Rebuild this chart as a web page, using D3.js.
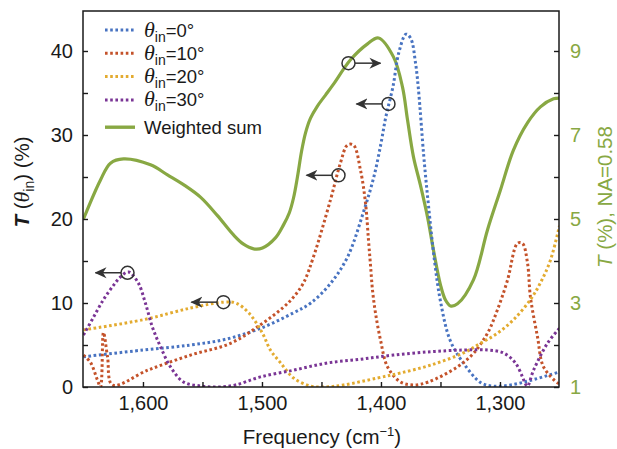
<!DOCTYPE html>
<html>
<head>
<meta charset="utf-8">
<script src="https://cdn.jsdelivr.net/npm/d3@7"></script>
<style>
  body { margin: 0; background: #fff; }
  svg { font-family: "Liberation Sans", Arial, sans-serif; }
</style>
</head>
<body>
<div id="chart"></div>
<script>
// values: [frequency (cm-1), transmission (%)]
const angles = ["0°", "10°", "20°", "30°"];

const t0 = [[1650,3.6],[1600,4.4],[1560,5.0],[1530,5.7],[1501,7.0],[1474,8.8],[1459,10.0],[1442,12.4],[1428,15.5],
  [1415,20.7],[1406,25.0],[1400,29.0],[1396,32.1],[1390,35.7],[1385,39.8],[1379,42.0],[1375,41.5],[1371,38.6],
  [1368.5,35.4],[1364,27.4],[1360,21.5],[1355,15.0],[1350,10.2],[1342,5.6],[1331,2.9],[1316,0.5],[1305,0.1],
  [1291,0.24],[1274,0.8],[1250,1.8]];

const t10 = [[1650,3.8],[1644,2.9],[1638.2,0.8],[1635.7,0],[1633.2,6.5],[1629.8,3.6],[1625.6,0.24],[1596,2.0],
  [1560,3.8],[1526.5,5.2],[1501.3,7.4],[1481.9,9.5],[1473.5,10.7],[1465.1,12.4],[1456.7,15.5],[1442.4,22.3],
  [1434,26.7],[1428.2,28.8],[1423.1,28.8],[1417.2,25.8],[1413,21.9],[1410.5,17.5],[1408.8,14.5],[1407.1,11.5],
  [1404.6,8.8],[1400.4,5.6],[1394.5,2.4],[1383.6,0.6],[1372.7,0.24],[1360.1,0.6],[1335.7,2.4],[1322.3,4.0],
  [1310.5,6.4],[1302.1,9.2],[1293.7,12.7],[1285.3,17.1],[1281.1,17.1],[1276.9,14.8],[1274.4,10.7],[1268.5,6.0],
  [1263.4,2.4],[1251.7,0.5],[1250,0.4]];

const t20 = [[1650,6.8],[1600,8.0],[1560,9.4],[1532,10.1],[1522,10.0],[1511,8.8],[1499.6,6.4],[1492.9,4.4],
  [1484.5,2.9],[1473.5,1.07],[1459.2,0.12],[1446.6,0.0],[1431.5,0.24],[1403,1.07],[1383.6,1.67],[1358.4,2.6],
  [1330.7,4.05],[1316.4,5.2],[1302.1,6.4],[1288.7,8.0],[1274.4,10.4],[1266,12.4],[1257.6,15.1],[1250,19.2]];

const t30 = [[1650,6.2],[1641.6,8.3],[1633.2,10.4],[1624.8,12.1],[1618.9,13.1],[1612.2,13.7],[1604,12.4],
  [1598,10.0],[1592,7.1],[1585.3,4.8],[1576.9,2.4],[1566,0.6],[1551.7,0.12],[1537.4,0],[1522.3,0.24],
  [1501.3,1.2],[1473.5,2.0],[1445,2.86],[1417.2,3.3],[1389.5,3.8],[1358.4,4.2],[1330.7,4.4],[1310.5,4.4],
  [1297,4.05],[1287,2.86],[1281.1,1.2],[1278.6,0.36],[1276.9,0.1],[1271.8,2.0],[1260.1,5.2],[1250,7.0]];

// weighted sum, right axis (T %, NA=0.58)
const weighted = [[1650,5.0],[1635.7,5.93],[1627.3,6.33],[1616.4,6.43],[1593.7,6.29],[1579.4,6.05],[1565,5.8],
  [1551.7,5.52],[1537.4,5.08],[1523.9,4.62],[1515.5,4.4],[1507,4.29],[1499.6,4.31],[1488.7,4.55],[1481.9,4.86],
  [1477,5.15],[1473.5,5.5],[1470.2,6.0],[1466.8,6.6],[1463.4,7.05],[1459.2,7.4],[1453.4,7.69],[1446.6,7.95],
  [1439.9,8.21],[1425.6,8.79],[1411.3,9.17],[1402.1,9.31],[1389.5,8.86],[1381.9,8.14],[1377.7,7.36],[1372.7,6.48],
  [1366.8,5.8],[1360.9,5.05],[1355.9,4.26],[1350,3.43],[1345.8,3.07],[1341.6,2.93],[1335.7,2.98],[1322.3,3.55],
  [1310.5,4.74],[1299.6,5.69],[1288.7,6.64],[1276.9,7.29],[1266,7.67],[1255,7.86],[1250,7.88]];

// circled points with arrows (which axis they belong to)
const markFreq = [1613, 1532.4, 1435.7, 1427.3, 1393.7];
const markValue = [13.6, 10.1, 25.2, 8.71, 33.7];
const markAxis = ["left", "left", "left", "right", "left"];
const markDir = [-1, -1, -1, 1, -1];

const xTicks = [1600, 1550, 1500, 1450, 1400, 1350, 1300];
const xLabels = [1600, 1500, 1400, 1300];
const leftTicks = [0, 5, 10, 15, 20, 25, 30, 35, 40];
const leftLabels = [0, 10, 20, 30, 40];
const rightTicks = [1, 2, 3, 4, 5, 6, 7, 8, 9];
const rightLabels = [1, 3, 5, 7, 9];

const colors = ["#4873c1", "#c4522a", "#e3ab30", "#7a3595"];
const sumColor = "#88a843";

const width = 617, height = 449;
const marginTop = 11, marginRight = 58, marginBottom = 62, marginLeft = 83;

const x = d3.scaleLinear([1650.4, 1250.4], [marginLeft, width - marginRight]);
const y = d3.scaleLinear([0, 44.76], [height - marginBottom, marginTop]);
const y2 = d3.scaleLinear([1, 9.952], [height - marginBottom, marginTop]);

const svg = d3.create("svg")
    .attr("width", width)
    .attr("height", height)
    .attr("viewBox", [0, 0, width, height]);

const defs = svg.append("defs");
defs.append("clipPath").attr("id", "plot")
  .append("rect")
    .attr("x", marginLeft).attr("y", marginTop)
    .attr("width", width - marginLeft - marginRight)
    .attr("height", height - marginTop - marginBottom);

defs.append("marker")
    .attr("id", "arrow")
    .attr("viewBox", "0 0 12 12")
    .attr("refX", 11).attr("refY", 6)
    .attr("markerWidth", 12).attr("markerHeight", 12)
    .attr("markerUnits", "userSpaceOnUse")
    .attr("orient", "auto")
  .append("path")
    .attr("d", "M0,0.5 L12,6 L0,11.5 L3.5,6 Z")
    .attr("fill", "#333");

const line = d3.line()
    .x(d => x(d[0]))
    .y(d => y(d[1]))
    .curve(d3.curveCatmullRom.alpha(0.5));

const line2 = d3.line()
    .x(d => x(d[0]))
    .y(d => y2(d[1]))
    .curve(d3.curveCatmullRom.alpha(0.5));

const plot = svg.append("g").attr("clip-path", "url(#plot)");

// weighted sum
plot.append("path")
    .attr("d", line2(weighted))
    .attr("fill", "none")
    .attr("stroke", sumColor)
    .attr("stroke-width", 3.2);

// angle curves
plot.append("g")
    .attr("fill", "none")
    .attr("stroke-width", 3)
    .attr("stroke-dasharray", "2.6,2.6")
  .selectAll("path")
  .data([t0, t10, t20, t30])
  .join("path")
    .attr("stroke", (d, i) => colors[i])
    .attr("d", d => line(d));

// frame
svg.append("rect")
    .attr("x", marginLeft).attr("y", marginTop)
    .attr("width", width - marginLeft - marginRight)
    .attr("height", height - marginTop - marginBottom)
    .attr("fill", "none")
    .attr("stroke", "#1a1a1a")
    .attr("stroke-width", 1.5);

// axes
const tickFont = g => g.selectAll(".tick text").style("font-size", "20px").style("font-family", "Liberation Sans, Arial, sans-serif");

svg.append("g")
    .attr("transform", `translate(0,${height - marginBottom})`)
    .call(d3.axisBottom(x).tickValues(xTicks).tickSize(-5).tickSizeOuter(0).tickPadding(9)
      .tickFormat(d => xLabels.includes(d) ? d3.format(",")(d) : ""))
    .call(g => g.select(".domain").remove())
    .call(g => g.selectAll(".tick line").attr("stroke", "#1a1a1a").attr("stroke-width", 1.4))
    .call(g => g.selectAll(".tick text").attr("fill", "#1a1a1a"))
    .call(tickFont);

svg.append("g")
    .attr("transform", `translate(${marginLeft},0)`)
    .call(d3.axisLeft(y).tickValues(leftTicks).tickSize(-5).tickSizeOuter(0).tickPadding(10)
      .tickFormat(d => leftLabels.includes(d) ? d : ""))
    .call(g => g.select(".domain").remove())
    .call(g => g.selectAll(".tick line").attr("stroke", "#1a1a1a").attr("stroke-width", 1.4))
    .call(g => g.selectAll(".tick text").attr("fill", "#1a1a1a"))
    .call(tickFont);

svg.append("g")
    .attr("transform", `translate(${width - marginRight},0)`)
    .call(d3.axisRight(y2).tickValues(rightTicks).tickSize(-5).tickSizeOuter(0).tickPadding(11)
      .tickFormat(d => rightLabels.includes(d) ? d : ""))
    .call(g => g.select(".domain").remove())
    .call(g => g.selectAll(".tick line").attr("stroke", "#1a1a1a").attr("stroke-width", 1.4))
    .call(g => g.selectAll(".tick text").attr("fill", sumColor))
    .call(tickFont);

// axis titles
const xt = svg.append("text")
    .attr("x", 322).attr("y", 444)
    .attr("text-anchor", "middle")
    .attr("fill", "#1a1a1a")
    .style("font-size", "20.5px");
xt.append("tspan").text("Frequency (cm");
xt.append("tspan").attr("dy", -8).style("font-size", "13px").text("−1");
xt.append("tspan").attr("dy", 8).text(")");

const yt = svg.append("text")
    .attr("transform", "translate(29,182) rotate(-90)")
    .attr("text-anchor", "middle")
    .attr("fill", "#1a1a1a")
    .style("font-size", "20.5px");
yt.append("tspan").style("font-style", "italic").style("font-weight", "bold").text("T ");
yt.append("tspan").text("(");
yt.append("tspan").style("font-family", "Liberation Serif, serif").style("font-style", "italic").style("font-size", "22px").text("θ");
yt.append("tspan").attr("dy", 5).style("font-size", "14px").text("in");
yt.append("tspan").attr("dy", -5).text(") (%)");

const rt = svg.append("text")
    .attr("transform", "translate(612,197) rotate(-90)")
    .attr("text-anchor", "middle")
    .attr("fill", sumColor)
    .style("font-size", "20.5px");
rt.append("tspan").style("font-style", "italic").text("T");
rt.append("tspan").text(" (%), NA=0.58");

// circled markers with arrows
const marks = markFreq.map((f, i) => ({
  cx: x(f),
  cy: markAxis[i] === "left" ? y(markValue[i]) : y2(markValue[i]),
  dir: markDir[i]
}));

const mg = svg.append("g").attr("stroke", "#333").attr("fill", "none").attr("stroke-width", 1.5);
mg.selectAll("circle")
  .data(marks)
  .join("circle")
    .attr("cx", d => d.cx).attr("cy", d => d.cy).attr("r", 6.5);
mg.selectAll("line")
  .data(marks)
  .join("line")
    .attr("x1", d => d.cx + d.dir * 6.5).attr("y1", d => d.cy)
    .attr("x2", d => d.cx + d.dir * 32).attr("y2", d => d.cy)
    .attr("marker-end", "url(#arrow)");

// legend
const legendItems = angles.map((a, i) => ({ label: a, color: colors[i], dotted: true }))
  .concat([{ label: "Weighted sum", color: sumColor, dotted: false }]);

const legend = svg.append("g")
  .selectAll("g")
  .data(legendItems)
  .join("g")
    .attr("transform", (d, i) => `translate(105,${30 + i * 23.3 + (i === 4 ? 4 : 0)})`);

legend.append("line")
    .attr("x1", 0).attr("x2", 30)
    .attr("stroke", d => d.color)
    .attr("stroke-width", d => d.dotted ? 3 : 3.4)
    .attr("stroke-dasharray", d => d.dotted ? "2.6,2.6" : null);

legend.each(function(d) {
  const t = d3.select(this).append("text")
      .attr("x", 39).attr("y", 6.5)
      .attr("fill", "#1a1a1a")
      .style("font-size", "18.5px");
  if (d.dotted) {
    t.append("tspan").style("font-family", "Liberation Serif, serif").style("font-style", "italic").style("font-size", "22px").text("θ");
    t.append("tspan").attr("dy", 5).style("font-size", "14px").text("in");
    t.append("tspan").attr("dy", -5).text("=" + d.label);
  } else {
    t.text(d.label);
  }
});

document.getElementById("chart").appendChild(svg.node());
</script>
</body>
</html>
